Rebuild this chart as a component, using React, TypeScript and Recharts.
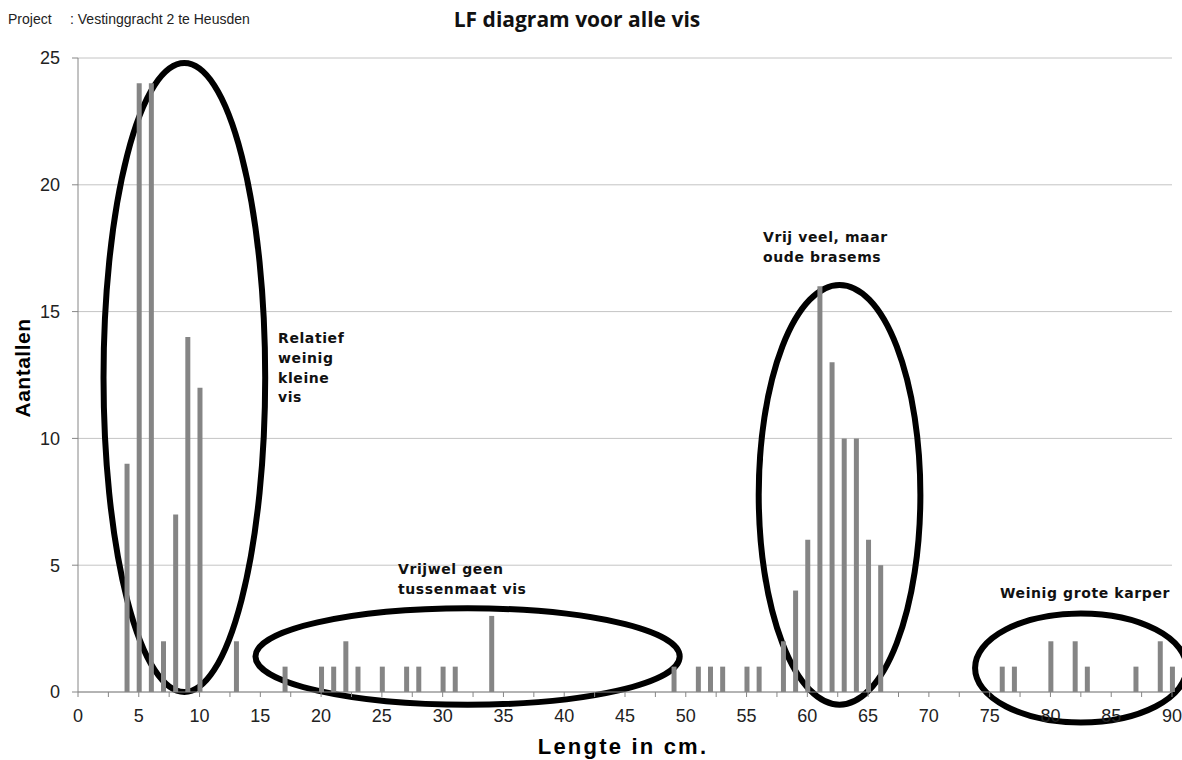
import React from "react";
import { BarChart, Bar, XAxis, YAxis, CartesianGrid, ReferenceArea, Customized } from "recharts";

const lengths = [4, 5, 6, 7, 8, 9, 10, 13, 17, 20, 21, 22, 23, 25, 27, 28, 30, 31, 34, 49, 51, 52, 53, 55, 56, 58, 59, 60, 61, 62, 63, 64, 65, 66, 76, 77, 80, 82, 83, 87, 89, 90];
const counts = [9, 24, 24, 2, 7, 14, 12, 2, 1, 1, 1, 2, 1, 1, 1, 1, 1, 1, 3, 1, 1, 1, 1, 1, 1, 2, 4, 6, 16, 13, 10, 10, 6, 5, 1, 1, 2, 2, 1, 1, 2, 1];
const xTicks = [0, 2.5, 5, 7.5, 10, 12.5, 15, 17.5, 20, 22.5, 25, 27.5, 30, 32.5, 35, 37.5, 40, 42.5, 45, 47.5, 50, 52.5, 55, 57.5, 60, 62.5, 65, 67.5, 70, 72.5, 75, 77.5, 80, 82.5, 85, 87.5, 90];
const yTicks = [0, 5, 10, 15, 20, 25];

// circled groups: [x1, x2, y1, y2] in chart units
const groups = [
  [2.1, 15.4, 0.0, 24.8],
  [14.6, 49.5, -0.5, 3.3],
  [56.0, 69.3, -0.5, 16.05],
  [73.8, 91.2, -1.2, 3.1],
];

const data = lengths.map((l, i) => ({ lengte: l, aantal: counts[i] }));

const ellipseShape = (p: any) => (
  <ellipse
    cx={p.x + p.width / 2}
    cy={p.y + p.height / 2}
    rx={Math.abs(p.width) / 2}
    ry={Math.abs(p.height) / 2}
    fill="none"
    stroke="#000"
    strokeWidth={6}
  />
);

const note = { fontFamily: "DejaVu Sans", fontWeight: "bold", fontSize: 14, letterSpacing: 0.6, fill: "#111" } as const;

const Notes = () => (
  <g>
    <text x={8} y={24} fontFamily="Liberation Sans" fontSize={14} fill="#222">Project</text>
    <text x={70} y={24} fontFamily="Liberation Sans" fontSize={14} fill="#222">: Vestinggracht  2 te Heusden</text>
    <text x={577} y={27} textAnchor="middle" fontFamily="Open Sans" fontWeight="bold" fontSize={21} fill="#111">LF diagram voor alle vis</text>
    <text x={30} y={368} transform="rotate(-90 30 368)" textAnchor="middle" fontFamily="Liberation Sans" fontWeight="bold" fontSize={21} letterSpacing={0.5} fill="#000">Aantallen</text>
    <text x={623} y={754} textAnchor="middle" fontFamily="Liberation Sans" fontWeight="bold" fontSize={22} letterSpacing={2.2} fill="#000">Lengte in cm.</text>
    <text {...note} x={278} y={343}>Relatief</text>
    <text {...note} x={278} y={363}>weinig</text>
    <text {...note} x={278} y={383}>kleine</text>
    <text {...note} x={278} y={402}>vis</text>
    <text {...note} x={398} y={574}>Vrijwel geen</text>
    <text {...note} x={398} y={594}>tussenmaat vis</text>
    <text {...note} x={763} y={242}>Vrij veel, maar</text>
    <text {...note} x={763} y={262}>oude brasems</text>
    <text {...note} x={1000} y={598}>Weinig grote karper</text>
  </g>
);

export default function App() {
  return (
    <div style={{ position: "absolute", left: 0, top: 0, width: 1182, height: 760, background: "#fff" }}>
      <BarChart width={1182} height={760} data={data} margin={{ top: 58, right: 10, left: 0, bottom: 0 }}>
        <CartesianGrid vertical={false} stroke="#c4c4c4" />
        <XAxis
          dataKey="lengte"
          type="number"
          domain={[0, 90]}
          ticks={xTicks}
          interval={0}
          height={68}
          tickSize={5}
          tickMargin={12}
          tickFormatter={(v: number) => (v % 5 === 0 ? String(v) : "")}
          stroke="#868686"
          tick={{ fill: "#222", fontSize: 18, fontFamily: "Liberation Sans" }}
        />
        <YAxis
          type="number"
          domain={[0, 25]}
          ticks={yTicks}
          width={78}
          tickSize={6}
          tickMargin={12}
          stroke="#868686"
          tick={{ fill: "#222", fontSize: 18, fontFamily: "Liberation Sans" }}
        />
        <Bar dataKey="aantal" fill="#858585" barSize={5} isAnimationActive={false} />
        {groups.map((g, i) => (
          <ReferenceArea key={i} x1={g[0]} x2={g[1]} y1={g[2]} y2={g[3]} ifOverflow="visible" shape={ellipseShape} />
        ))}
        <Customized component={Notes} />
      </BarChart>
    </div>
  );
}
